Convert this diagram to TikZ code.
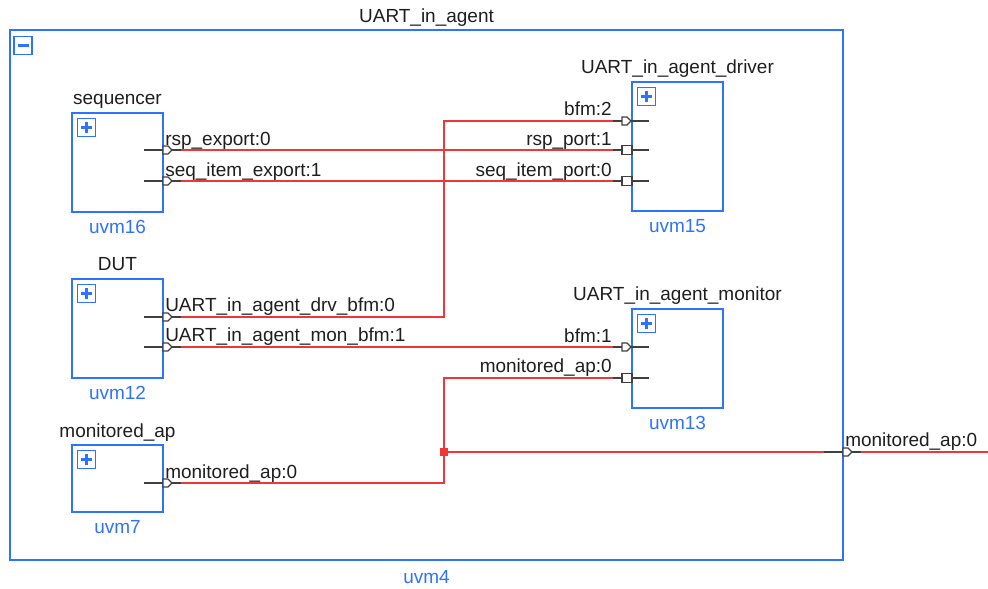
\documentclass[tikz,border=0pt]{standalone}
\usepackage{fontspec}
\setmainfont{Liberation Sans}
\usepackage{tikz}
\usetikzlibrary{positioning,calc}
\definecolor{uvmblue}{RGB}{45,115,255}
\definecolor{wirered}{RGB}{240,55,55}
\definecolor{inktext}{RGB}{30,30,30}

\begin{document}
\begin{tikzpicture}[x=0.025cm, y=-0.025cm,
    font=\fontsize{13.5}{16}\selectfont, text=inktext,
    comp/.style={draw=uvmblue, line width=0.9pt, minimum width=2.275cm, inner sep=0pt},
    inst/.style={text=uvmblue, anchor=base},
    title/.style={anchor=base},
    wire/.style={draw=wirered, line width=0.9pt},
    stub/.style={draw=black!75, line width=0.8pt},
    outport/.pic={
        \draw[stub] (-19,0) coordinate (-start) -- (18,0) coordinate (-end);
        \draw[stub, fill=white] (0,-4) -- (5,-4) -- (9,0) -- (5,4) -- (0,4) -- cycle;
    },
    inpent/.pic={
        \draw[stub] (-19,0) coordinate (-end) -- (17,0);
        \draw[stub, fill=white] (-10,-4) -- (-5,-4) -- (-1,0) -- (-5,4) -- (-10,4) -- cycle;
    },
    insq/.pic={
        \draw[stub] (-19,0) coordinate (-end) -- (17,0);
        \draw[stub, fill=white] (-10,-4.5) rectangle (0,4.5);
    },
    plusicon/.pic={
        \draw[uvmblue, line width=1.1pt] (0,0) rectangle (18,18);
        \draw[uvmblue, line width=2.2pt] (3.5,9) -- (14.5,9) (9,3.5) -- (9,14.5);
    },
    minusicon/.pic={
        \draw[uvmblue, line width=1.1pt] (0,0) rectangle (18,18);
        \draw[uvmblue, line width=2.2pt] (3.5,9) -- (14.5,9);
    }]
    \useasboundingbox (0,0) rectangle (988,588);

    % Outer agent block
    \node[comp, minimum width=20.825cm, minimum height=13.25cm] (agent) at (426.5,295) {};
    \node[title] (agent-t) at ($(agent.north)+(0,-7)$) {UART\_in\_agent};
    \node[inst] (agent-i) at ($(agent.south)+(0,23)$) {uvm4};
    \pic (agent-ic) at ($(agent.north west)+(5,7)$) {minusicon};

    % Inner components
    \node[comp, minimum height=2.475cm] (seq) at (117.5,162.5) {};
    \node[comp, minimum height=3.225cm] (drv) at (677.5,146.5) {};
    \node[comp, minimum height=2.475cm] (dut) at (117.5,328.5) {};
    \node[comp, minimum height=2.475cm] (mon) at (677.5,358.5) {};
    \node[comp, minimum height=1.675cm] (map) at (117.5,478.5) {};

    \node[title] (seq-t) at ($(seq.north)+(0,-8)$) {sequencer};
    \node[title] (drv-t) at ($(drv.north)+(0,-8)$) {UART\_in\_agent\_driver};
    \node[title] (dut-t) at ($(dut.north)+(0,-8)$) {DUT};
    \node[title] (mon-t) at ($(mon.north)+(0,-8)$) {UART\_in\_agent\_monitor};
    \node[title] (map-t) at ($(map.north)+(0,-7)$) {monitored\_ap};

    \node[inst] (seq-i) at ($(seq.south)+(0,21)$) {uvm16};
    \node[inst] (drv-i) at ($(drv.south)+(0,21)$) {uvm15};
    \node[inst] (dut-i) at ($(dut.south)+(0,21)$) {uvm12};
    \node[inst] (mon-i) at ($(mon.south)+(0,21)$) {uvm13};
    \node[inst] (map-i) at ($(map.south)+(0,21)$) {uvm7};

    \foreach \c in {seq,drv,dut,mon,map} {
        \pic (\c-ic) at ($(\c.north west)+(6,6)$) {plusicon};
    }

    % Ports
    \pic (seqrsp) at (163,150) {outport};
    \pic (seqitem) at (163,181) {outport};
    \pic (drvbfm) at (632,121) {inpent};
    \pic (drvrsp) at (632,150) {insq};
    \pic (drvitem) at (632,181) {insq};
    \pic (dutdrv) at (163,317) {outport};
    \pic (dutmon) at (163,347) {outport};
    \pic (monbfm) at (632,347) {inpent};
    \pic (monap) at (632,378) {insq};
    \pic (mapap) at (163,483) {outport};
    \pic (agentap) at (843,452) {outport};

    % Port labels
    \node[anchor=base west, inner sep=0pt] (l-seqrsp) at (165,145) {rsp\_export:0};
    \node[anchor=base west, inner sep=0pt] (l-seqitem) at (165,176) {seq\_item\_export:1};
    \node[anchor=base east, inner sep=0pt] (l-drvbfm) at (612,115) {bfm:2};
    \node[anchor=base east, inner sep=0pt] (l-drvrsp) at (612,145) {rsp\_port:1};
    \node[anchor=base east, inner sep=0pt] (l-drvitem) at (612,176) {seq\_item\_port:0};
    \node[anchor=base west, inner sep=0pt] (l-dutdrv) at (165,311) {UART\_in\_agent\_drv\_bfm:0};
    \node[anchor=base west, inner sep=0pt] (l-dutmon) at (165,341) {UART\_in\_agent\_mon\_bfm:1};
    \node[anchor=base east, inner sep=0pt] (l-monbfm) at (612,342) {bfm:1};
    \node[anchor=base east, inner sep=0pt] (l-monap) at (612,372) {monitored\_ap:0};
    \node[anchor=base west, inner sep=0pt] (l-mapap) at (165,478) {monitored\_ap:0};
    \node[anchor=base west, inner sep=0pt] (l-agentap) at (845,446) {monitored\_ap:0};

    % Wires
    \coordinate (bus) at (444,0);
    \coordinate (tap) at (bus |- agentap-start);
    \coordinate (exit) at (988,452);
    \draw[wire] (seqrsp-end) -- (drvrsp-end);
    \draw[wire] (seqitem-end) -- (drvitem-end);
    \draw[wire] (dutdrv-end) -| (bus |- drvbfm-end) -- (drvbfm-end);
    \draw[wire] (dutmon-end) -- (monbfm-end);
    \draw[wire] (mapap-end) -| (bus |- monap-end) -- (monap-end);
    \draw[wire] (tap) -- (agentap-start);
    \draw[wire] (agentap-end) -- (exit);
    \node[fill=wirered, inner sep=0pt, minimum size=0.18cm] (junc) at (tap) {};

\end{tikzpicture}
\end{document}
